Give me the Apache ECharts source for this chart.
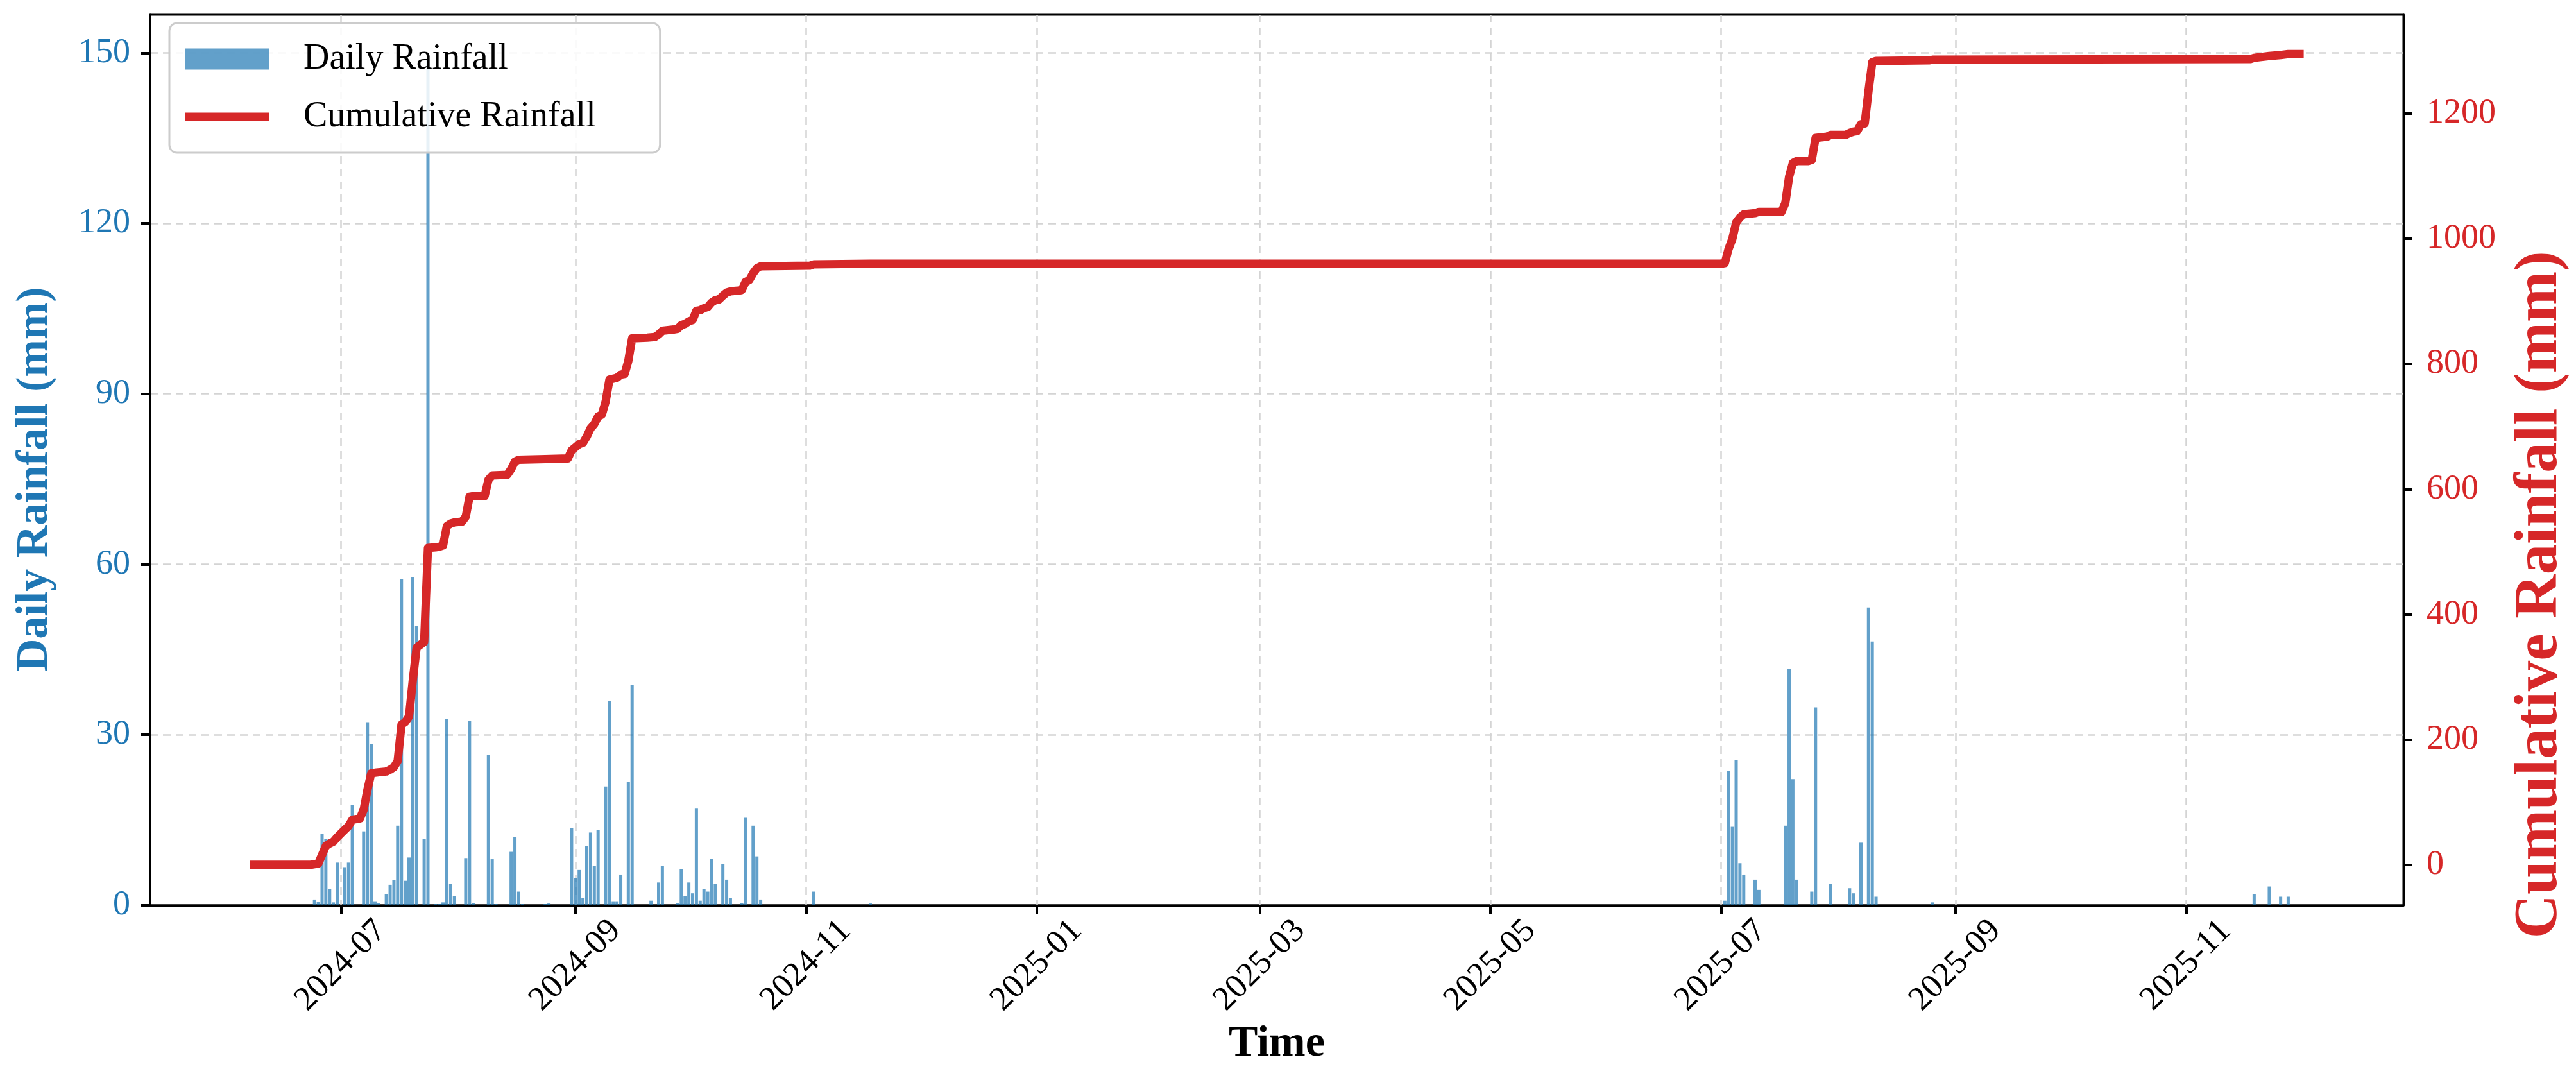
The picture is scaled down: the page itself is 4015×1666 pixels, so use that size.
<!DOCTYPE html>
<html>
<head>
<meta charset="utf-8">
<script src="https://cdn.jsdelivr.net/npm/echarts@6/dist/echarts.min.js"></script>
<style>
html,body{margin:0;padding:0;background:#fff;}
#chart{width:4015px;height:1666px;}
</style>
</head>
<body>
<div id="chart"></div>
<script>
// ---- data ----
const barDates = [
  '2024-06-24','2024-06-25','2024-06-26','2024-06-27','2024-06-28','2024-06-29','2024-06-30',
  '2024-07-02','2024-07-03','2024-07-04','2024-07-07','2024-07-08','2024-07-09','2024-07-10','2024-07-11',
  '2024-07-13','2024-07-14','2024-07-15','2024-07-16','2024-07-17','2024-07-18','2024-07-19','2024-07-20',
  '2024-07-21','2024-07-23','2024-07-24','2024-07-26','2024-07-27','2024-07-28','2024-07-29','2024-07-30',
  '2024-07-31','2024-08-03','2024-08-04','2024-08-05','2024-08-09','2024-08-10','2024-08-11','2024-08-15',
  '2024-08-16','2024-08-17','2024-08-18','2024-08-24','2024-08-25','2024-08-31','2024-09-01','2024-09-02',
  '2024-09-03','2024-09-04','2024-09-05','2024-09-06','2024-09-07','2024-09-09','2024-09-10','2024-09-11',
  '2024-09-12','2024-09-13','2024-09-15','2024-09-16','2024-09-21','2024-09-23','2024-09-24','2024-09-28',
  '2024-09-29','2024-09-30','2024-10-01','2024-10-02','2024-10-03','2024-10-04','2024-10-05','2024-10-06',
  '2024-10-07','2024-10-08','2024-10-10','2024-10-11','2024-10-12','2024-10-15','2024-10-16','2024-10-18',
  '2024-10-19','2024-10-20','2024-11-03','2024-11-18',
  '2025-07-02','2025-07-03','2025-07-04','2025-07-05','2025-07-06','2025-07-07','2025-07-10','2025-07-11',
  '2025-07-18','2025-07-19','2025-07-20','2025-07-21','2025-07-25','2025-07-26','2025-07-30','2025-08-04',
  '2025-08-05','2025-08-07','2025-08-09','2025-08-10','2025-08-11','2025-08-26',
  '2025-11-19','2025-11-23','2025-11-26','2025-11-28'
];
const barValues = [
  1.0, 0.6, 12.6, 11.7, 2.9, 0.5, 7.5,
  6.7, 7.5, 17.6, 13.0, 32.2, 28.4, 0.7, 0.4,
  2.0, 3.6, 4.4, 14.0, 57.4, 4.3, 8.4, 57.8,
  49.2, 11.7, 149.0, 0.2, 0.2, 0.5, 32.8, 3.8,
  1.6, 8.3, 32.5, 0.4, 26.4, 8.1, 0.2, 9.4,
  12.0, 2.4, 0.2, 0.2, 0.3, 13.6, 4.8, 6.2,
  1.3, 10.4, 12.8, 6.9, 13.2, 20.9, 36.0, 0.7,
  0.7, 5.4, 21.7, 38.8, 0.8, 4.0, 6.9, 0.4,
  6.3, 1.6, 4.0, 2.1, 17.0, 0.8, 2.8, 2.4,
  8.2, 3.8, 7.3, 4.5, 1.3, 0.4, 15.4, 14.0,
  8.6, 1.0, 2.4, 0.3,
  0.8, 23.6, 13.8, 25.6, 7.4, 5.4, 4.5, 2.7,
  14.0, 41.6, 22.2, 4.5, 2.4, 34.8, 3.8, 3.0,
  2.1, 11.0, 52.4, 46.4, 1.5, 0.5,
  1.9, 3.3, 1.5, 1.5
];
const cumDates = [
  '2024-06-08','2024-06-23','2024-06-24','2024-06-25','2024-06-26','2024-06-27','2024-06-28','2024-06-29',
  '2024-06-30','2024-07-01','2024-07-02','2024-07-03','2024-07-04','2024-07-06','2024-07-07','2024-07-08',
  '2024-07-09','2024-07-10','2024-07-13','2024-07-14','2024-07-15','2024-07-16','2024-07-17','2024-07-18',
  '2024-07-19','2024-07-20','2024-07-21','2024-07-23','2024-07-24','2024-07-26','2024-07-27','2024-07-28',
  '2024-07-29','2024-07-30','2024-07-31','2024-08-02','2024-08-03','2024-08-04','2024-08-05','2024-08-08',
  '2024-08-09','2024-08-10','2024-08-14','2024-08-15','2024-08-16','2024-08-17','2024-08-24','2024-08-30',
  '2024-08-31','2024-09-01','2024-09-02','2024-09-03','2024-09-04','2024-09-05','2024-09-06','2024-09-07',
  '2024-09-08','2024-09-09','2024-09-10','2024-09-12','2024-09-13','2024-09-14','2024-09-15','2024-09-16',
  '2024-09-20','2024-09-22','2024-09-23','2024-09-24','2024-09-27','2024-09-28','2024-09-29','2024-09-30',
  '2024-10-01','2024-10-02','2024-10-03','2024-10-04','2024-10-05','2024-10-06','2024-10-07','2024-10-08',
  '2024-10-09','2024-10-10','2024-10-11','2024-10-12','2024-10-14','2024-10-15','2024-10-16','2024-10-17',
  '2024-10-18','2024-10-19','2024-10-20','2024-11-02','2024-11-03','2024-11-18',
  '2025-07-01','2025-07-02','2025-07-03','2025-07-04','2025-07-05','2025-07-06','2025-07-07','2025-07-10',
  '2025-07-11','2025-07-17','2025-07-18','2025-07-19','2025-07-20','2025-07-21','2025-07-24','2025-07-25',
  '2025-07-26','2025-07-29','2025-07-30','2025-08-03','2025-08-04','2025-08-05','2025-08-06','2025-08-07',
  '2025-08-08','2025-08-09','2025-08-10','2025-08-11','2025-08-25','2025-08-26','2025-11-18','2025-11-19',
  '2025-11-23','2025-11-26','2025-11-28','2025-12-01'
];
const cumValues = [
  0, 0, 1, 2, 16, 30, 34, 37,
  44, 50, 56, 62, 72, 74, 88, 120,
  146, 147, 149, 152, 156, 166, 224, 228,
  237, 295, 347, 356, 506, 507, 508, 510,
  541, 545, 547, 548, 556, 588, 589, 589,
  615, 622, 623, 632, 644, 647, 648, 649,
  662, 667, 672, 674, 684, 697, 704, 716,
  719, 740, 775, 778, 783, 784, 805, 841,
  842, 843, 847, 853, 855, 856, 862, 864,
  868, 870, 885, 886, 889, 891, 898, 902,
  903, 909, 914, 916, 917, 918, 931, 934,
  945, 953, 956, 957, 959, 960,
  960, 961, 984, 1000, 1026, 1034, 1039, 1041,
  1043, 1043, 1057, 1099, 1121, 1124, 1124, 1126,
  1161, 1163, 1166, 1166, 1169, 1171, 1172, 1183,
  1184, 1236, 1282, 1284, 1285, 1286, 1287, 1289,
  1292, 1293.5, 1295, 1295
];
const leftTicks = [0, 30, 60, 90, 120, 150];
const rightTicks = [0, 200, 400, 600, 800, 1000, 1200];

// ---- chart ----
const DAY = 86400000;
function ts(s){ const p = s.split('-'); return Date.UTC(+p[0], +p[1]-1, +p[2]); }
const FONT = 'Liberation Serif';
const X_MIN = ts('2024-06-08') - 27.05*DAY;
const X_MAX = ts('2025-12-01') + 27.05*DAY;
const gridDash = {type: [12, 8], color: '#d4d4d4', width: 2.5};

const chart = echarts.init(document.getElementById('chart'), null, {renderer: 'canvas'});
chart.setOption({
  animation: false,
  useUTC: true,
  backgroundColor: '#ffffff',
  grid: {left: 234, right: 263, top: 23, bottom: 245, show: true, borderColor: '#000', borderWidth: 3, backgroundColor: 'transparent'},
  legend: {
    left: 264, top: 36, orient: 'vertical',
    padding: [28, 100, 28, 24],
    itemGap: 34, itemWidth: 132, itemHeight: 33,
    backgroundColor: 'rgba(255,255,255,0.85)',
    borderColor: '#cccccc', borderWidth: 3, borderRadius: 12,
    itemStyle: {borderWidth: 0},
    textStyle: {fontFamily: FONT, fontSize: 56, color: '#000', padding: [0, 0, 0, 48]},
    data: [
      {name: 'Daily Rainfall', icon: 'rect'},
      {name: 'Cumulative Rainfall', icon: 'path://M0,0H132V13H0Z'}
    ]
  },
  xAxis: {
    type: 'time', min: X_MIN, max: X_MAX,
    minInterval: 65*DAY, maxInterval: 65*DAY,
    axisLine: {show: true, lineStyle: {color: '#000', width: 3}},
    axisTick: {show: true, length: 14, lineStyle: {color: '#000', width: 4}},
    axisLabel: {
      rotate: 45, align: 'center', verticalAlign: 'middle', margin: 94,
      fontFamily: FONT, fontSize: 53, color: '#000',
      showMinLabel: false, showMaxLabel: false, hideOverlap: false,
      formatter: function(v){ const d = new Date(v); const m = d.getUTCMonth()+1; return d.getUTCFullYear() + '-' + (m < 10 ? '0' + m : m); }
    },
    splitLine: {show: true, lineStyle: gridDash},
    name: 'Time', nameLocation: 'middle', nameGap: 166,
    nameTextStyle: {fontFamily: FONT, fontSize: 68, fontWeight: 'bold', color: '#000'}
  },
  yAxis: [
    {
      type: 'value', position: 'left', min: 0, max: 156.7, interval: 30,
      axisLine: {show: true, lineStyle: {color: '#000', width: 3}},
      axisTick: {show: true, length: 14, lineStyle: {color: '#000', width: 4}, customValues: leftTicks},
      axisLabel: {fontFamily: FONT, fontSize: 54, color: '#1f77b4', margin: 31, customValues: leftTicks,
        formatter: function(v){ return String(v); }},
      splitLine: {show: true, lineStyle: gridDash},
      name: 'Daily Rainfall (mm)', nameLocation: 'middle', nameRotate: 90, nameGap: 144,
      nameTextStyle: {fontFamily: FONT, fontSize: 70, fontWeight: 'bold', color: '#1f77b4', padding: [0, 60, 0, 0]}
    },
    {
      type: 'value', position: 'right', min: -64.6, max: 1357.8,
      axisLine: {show: true, lineStyle: {color: '#000', width: 3}},
      axisTick: {show: true, length: 14, lineStyle: {color: '#000', width: 4}, customValues: rightTicks},
      axisLabel: {fontFamily: FONT, fontSize: 54, color: '#d62728', margin: 36, customValues: rightTicks,
        formatter: function(v){ return String(v); }},
      splitLine: {show: false},
      name: 'Cumulative Rainfall (mm)', nameLocation: 'middle', nameRotate: 90, nameGap: 166,
      nameTextStyle: {fontFamily: FONT, fontSize: 95, fontWeight: 'bold', color: '#d62728', padding: [0, 420, 0, 0]}
    }
  ],
  series: [
    {
      type: 'bar', name: 'Daily Rainfall', yAxisIndex: 0,
      data: barDates.map((d, i) => [ts(d), barValues[i]]),
      barWidth: 5,
      itemStyle: {color: 'rgba(31,119,180,0.7)'},
      z: 2
    },
    {
      type: 'line', name: 'Cumulative Rainfall', yAxisIndex: 1,
      data: cumDates.map((d, i) => [ts(d), cumValues[i]]),
      symbol: 'none', showSymbol: false,
      color: '#d62728',
      lineStyle: {color: '#d62728', width: 13, cap: 'square', join: 'round'},
      z: 3
    }
  ]
});
</script>
</body>
</html>
